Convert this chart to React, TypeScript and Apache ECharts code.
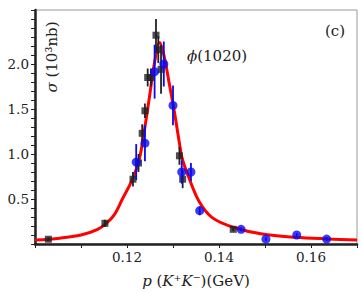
import React, { useEffect, useRef } from "react";
import * as echarts from "echarts";

// Fit curve
const curveX = [0.1, 0.1054, 0.11, 0.1135, 0.1155, 0.1173, 0.119, 0.1212, 0.1227, 0.1238, 0.1249, 0.126, 0.1271, 0.1281, 0.1292, 0.1303, 0.1314, 0.132, 0.1335, 0.1357, 0.1386, 0.1431, 0.1494, 0.1566, 0.1638, 0.17];
const curveY = [0.044, 0.065, 0.1, 0.16, 0.23, 0.33, 0.5, 0.72, 0.95, 1.27, 1.64, 2.02, 2.24, 2.08, 1.78, 1.47, 1.12, 0.95, 0.73, 0.47, 0.29, 0.186, 0.11, 0.074, 0.056, 0.044];

// Black squares
const blackX = [0.1029, 0.1152, 0.1213, 0.1225, 0.1233, 0.1239, 0.1245, 0.1252, 0.1263, 0.1268, 0.1274, 0.1314, 0.1321, 0.1431];
const blackY = [0.053, 0.23, 0.72, 0.9, 1.23, 1.48, 1.85, 1.85, 2.32, 2.16, 1.94, 0.98, 0.72, 0.163];
const blackErr = [0.02, 0.04, 0.08, 0.1, 0.1, 0.08, 0.1, 0.1, 0.18, 0.15, 0.27, 0.1, 0.1, 0.02];

// Blue circles
const blueX = [0.122, 0.1239, 0.126, 0.128, 0.13, 0.1319, 0.1339, 0.1358, 0.1448, 0.1502, 0.1569, 0.1634];
const blueY = [0.91, 1.12, 1.915, 2.0, 1.54, 0.8, 0.8, 0.37, 0.163, 0.055, 0.1, 0.055];
const blueErr = [0.2, 0.2, 0.3, 0.25, 0.22, 0.13, 0.1, 0.05, 0.02, 0.02, 0.02, 0.02];

const yLabels = [0.5, 1.0, 1.5, 2.0];
const xLabels = [0.12, 0.14, 0.16];

const FONT = "DejaVu Serif";
const RED = "#ff0000";
const BLUE = "#0a0af0";
const BLACK = "#222222";

function errorBars(color: string, xs: number[], ys: number[], es: number[], z: number) {
  return {
    type: "custom",
    z,
    data: xs.map((x, i) => [x, ys[i], es[i]]),
    renderItem: (_p: any, api: any) => {
      const x = api.value(0);
      const y = api.value(1);
      const e = api.value(2);
      const a = api.coord([x, y + e]);
      const b = api.coord([x, y - e]);
      return {
        type: "line",
        shape: { x1: a[0], y1: a[1], x2: b[0], y2: b[1] },
        style: { stroke: color, lineWidth: 1.8 },
      };
    },
  };
}

export default function App() {
  const ref = useRef<HTMLDivElement>(null);
  useEffect(() => {
    if (!ref.current) return;
    const chart = echarts.init(ref.current, null, { renderer: "svg" });
    chart.setOption({
      animation: false,
      backgroundColor: "#ffffff",
      grid: { left: 35, top: 10, right: 4, bottom: 48, show: true, borderColor: "#999", borderWidth: 1 },
      xAxis: {
        type: "value",
        min: 0.1,
        max: 0.17,
        interval: 0.01,
        axisLine: { show: true, lineStyle: { color: BLACK, width: 2.5 } },
        axisTick: { show: true, length: 4, lineStyle: { color: BLACK, width: 1 } },
        splitLine: { show: false },
        axisLabel: {
          margin: 6,
          color: BLACK,
          fontFamily: FONT,
          fontSize: 13.5,
          formatter: (v: number) => {
            const m = xLabels.find((l) => Math.abs(l - v) < 1e-6);
            return m !== undefined ? m.toFixed(2) : "";
          },
        },
      },
      yAxis: {
        type: "value",
        min: 0,
        max: 2.6,
        interval: 0.1,
        axisLine: { show: true, lineStyle: { color: BLACK, width: 2.5 } },
        axisTick: { show: true, length: 4, lineStyle: { color: BLACK, width: 1 } },
        splitLine: { show: false },
        axisLabel: {
          margin: 6,
          color: BLACK,
          fontFamily: FONT,
          fontSize: 13.5,
          formatter: (v: number) => {
            const m = yLabels.find((l) => Math.abs(l - v) < 1e-6);
            return m !== undefined ? m.toFixed(1) : "";
          },
        },
      },
      series: [
        {
          type: "line",
          z: 2,
          data: curveX.map((x, i) => [x, curveY[i]]),
          smooth: 0.35,
          showSymbol: false,
          lineStyle: { color: RED, width: 3 },
        },
        errorBars(BLACK, blackX, blackY, blackErr, 3),
        {
          type: "scatter",
          z: 4,
          data: blackX.map((x, i) => [x, blackY[i]]),
          symbol: "rect",
          symbolSize: 7,
          itemStyle: { color: BLACK },
        },
        errorBars(BLUE, blueX, blueY, blueErr, 5),
        {
          type: "scatter",
          z: 6,
          data: blueX.map((x, i) => [x, blueY[i]]),
          symbol: "circle",
          symbolSize: 9,
          itemStyle: { color: BLUE },
        },
      ],
      graphic: [
        {
          type: "text",
          x: 52,
          y: 57,
          rotation: Math.PI / 2,
          style: {
            text: "{i|σ} (10³nb)",
            align: "center",
            verticalAlign: "middle",
            fill: BLACK,
            font: `15px "${FONT}"`,
            rich: { i: { fontStyle: "italic", fontFamily: FONT, fontSize: 15 } },
          },
        },
        {
          type: "text",
          x: 196,
          y: 281,
          style: {
            text: "{i|p} ({i|K}⁺{i|K}⁻)(GeV)",
            align: "center",
            verticalAlign: "middle",
            fill: BLACK,
            font: `15px "${FONT}"`,
            rich: { i: { fontStyle: "italic", fontFamily: FONT, fontSize: 15 } },
          },
        },
        {
          type: "text",
          x: 187,
          y: 56,
          style: {
            text: "{i|ϕ}(1020)",
            align: "left",
            verticalAlign: "middle",
            fill: BLACK,
            font: `15px "${FONT}"`,
            rich: { i: { fontStyle: "italic", fontFamily: FONT, fontSize: 15 } },
          },
        },
        {
          type: "text",
          x: 335,
          y: 31,
          style: {
            text: "(c)",
            align: "center",
            verticalAlign: "middle",
            fill: BLACK,
            font: `15px "${FONT}"`,
          },
        },
      ],
    });
    return () => chart.dispose();
  }, []);
  return (
    <div
      ref={ref}
      style={{ position: "fixed", left: 0, top: 0, width: 361, height: 292, background: "#fff" }}
    />
  );
}
